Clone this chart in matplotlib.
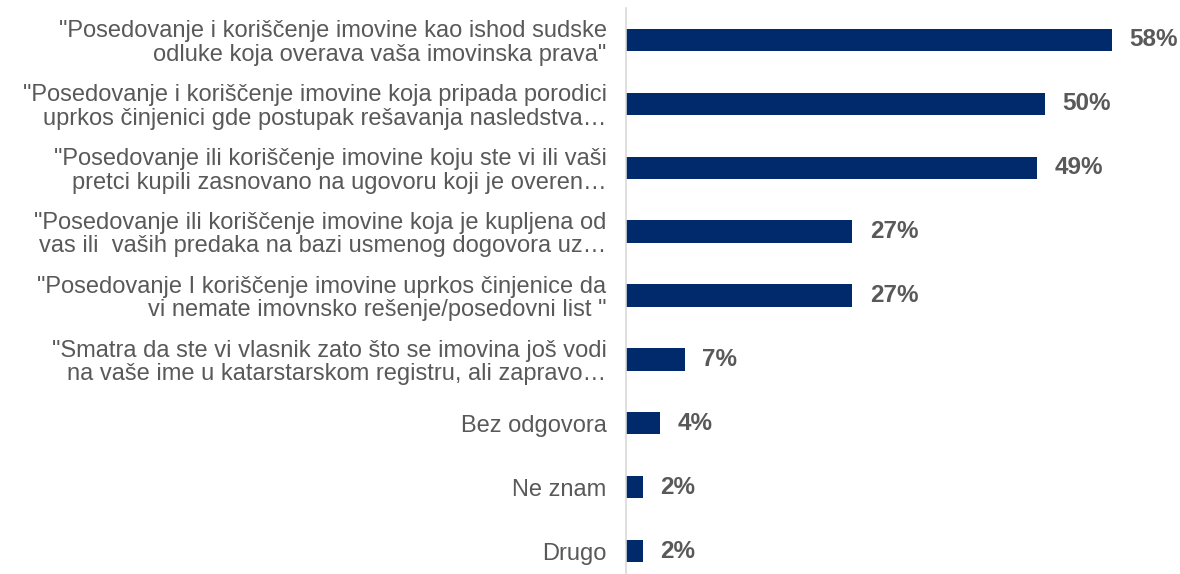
import matplotlib.pyplot as plt

plt.rcParams['font.family'] = ['Liberation Sans', 'DejaVu Sans']

categories = [
    '"Posedovanje i koriščenje imovine kao ishod sudske\nodluke koja overava vaša imovinska prava"',
    '"Posedovanje i koriščenje imovine koja pripada porodici\nuprkos činjenici gde postupak rešavanja nasledstva…',
    '"Posedovanje ili koriščenje imovine koju ste vi ili vaši\npretci kupili zasnovano na ugovoru koji je overen…',
    '"Posedovanje ili koriščenje imovine koja je kupljena od\nvas ili  vaših predaka na bazi usmenog dogovora uz…',
    '"Posedovanje I koriščenje imovine uprkos činjenice da\nvi nemate imovnsko rešenje/posedovni list "',
    '"Smatra da ste vi vlasnik zato što se imovina još vodi\nna vaše ime u katarstarskom registru, ali zapravo…',
    'Bez odgovora',
    'Ne znam',
    'Drugo',
]
values = [58, 50, 49, 27, 27, 7, 4, 2, 2]

W, H = 1180, 574
fig = plt.figure(figsize=(W / 100, H / 100), dpi=100)
ax = fig.add_axes([626 / W, 0, 554 / W, 566 / H])

ypos = list(range(len(values)))
ax.barh(ypos, values, height=0.35, color='#002A6C')

ax.set_xlim(0, 66.1)
ax.set_ylim(8.36, -0.5)
ax.set_yticks(ypos)
ax.set_yticklabels(categories, fontsize=17, color='#595959', linespacing=1.08)
ax.tick_params(axis='y', length=0, pad=14)
ax.set_xticks([])

for s in ['top', 'right', 'bottom']:
    ax.spines[s].set_visible(False)
ax.spines['left'].set_color('#D9D9D9')
ax.spines['left'].set_linewidth(1.2)

for y, v in zip(ypos, values):
    ax.text(v + 2.1, y, f'{v}%', va='center', ha='left', fontsize=17.5,
            fontweight='bold', color='#595959')

fig.savefig('out.png', dpi=100)
